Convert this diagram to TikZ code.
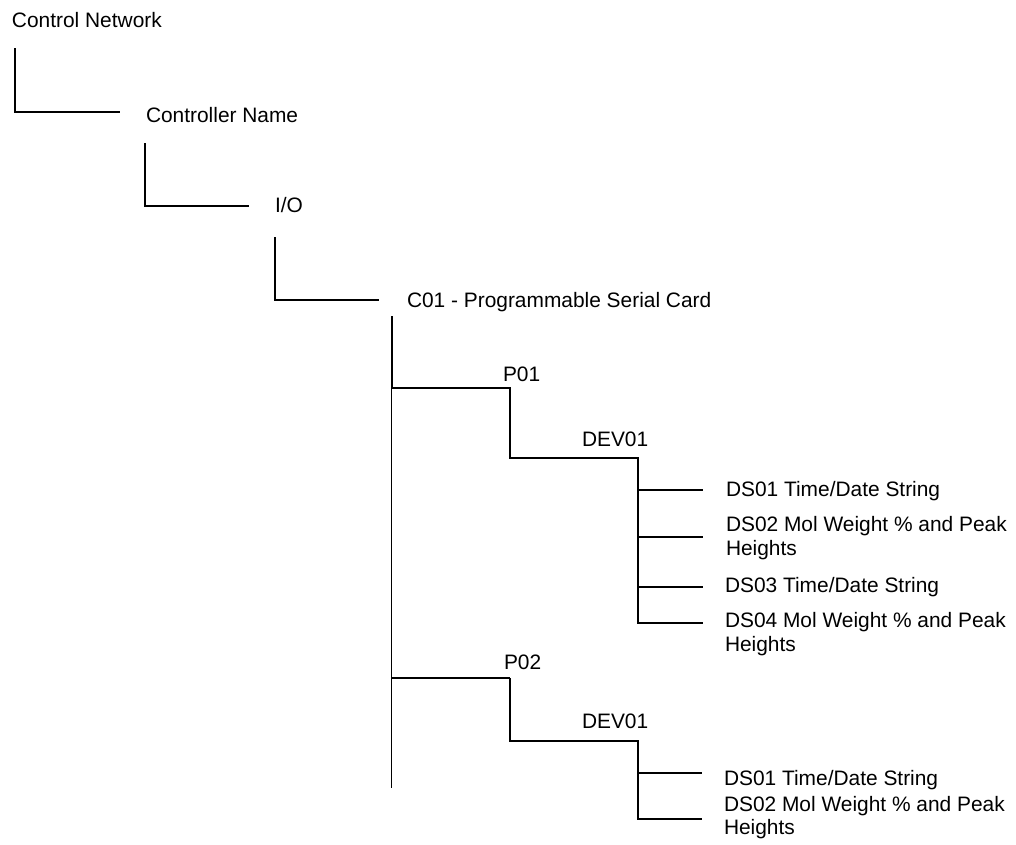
\documentclass[tikz,border=0pt]{standalone}
\usepackage{fontspec}
\setmainfont{Liberation Sans}
\begin{document}
\begin{tikzpicture}[x=1pt,y=-1pt,
  lbl/.style={anchor=base west,inner sep=0pt,outer sep=0pt,font=\fontsize{20.9}{24}\selectfont},
  wire/.style={line width=2pt,line cap=butt,line join=miter},
  thinwire/.style={line width=1.3pt}]
\useasboundingbox (0,0) rectangle (1016,844);
% texts
\node[lbl] (cn) at (12,27) {Control Network};
\node[lbl] (ctl) at (146,122) {Controller Name};
\node[lbl] (io) at (275,212) {I/O};
\node[lbl] (c01) at (407,307) {C01 - Programmable Serial Card};
\node[lbl] (p01) at (503,381) {P01};
\node[lbl] (dev1) at (582,446) {DEV01};
\node[lbl] (a1) at (726,496) {DS01 Time/Date String};
\node[lbl] (a2) at (726,531) {DS02 Mol Weight \% and Peak};
\node[lbl] (a2b) at (726,555) {Heights};
\node[lbl] (a3) at (725,592) {DS03 Time/Date String};
\node[lbl] (a4) at (725,627) {DS04 Mol Weight \% and Peak};
\node[lbl] (a4b) at (725,651) {Heights};
\node[lbl] (p02) at (504,669) {P02};
\node[lbl] (dev2) at (582,728) {DEV01};
\node[lbl] (b1) at (724,785) {DS01 Time/Date String};
\node[lbl] (b2) at (724,811) {DS02 Mol Weight \% and Peak};
\node[lbl] (b2b) at (724,834) {Heights};
% connector points
\coordinate (l1a) at (15,48);   \coordinate (l1b) at (15,112);  \coordinate (l1c) at (120,112);
\coordinate (l2a) at (145,143); \coordinate (l2b) at (145,206); \coordinate (l2c) at (249,206);
\coordinate (l3a) at (275,237); \coordinate (l3b) at (275,300); \coordinate (l3c) at (379,300);
\coordinate (mt) at (391.5,316); \coordinate (m1) at (391.5,388); \coordinate (m2) at (391.5,678); \coordinate (mb) at (391.5,788);
\coordinate (p1a) at (510,388); \coordinate (p1b) at (510,458);
\coordinate (d1a) at (638,458); \coordinate (d1b) at (638,623);
\coordinate (h1) at (638,490); \coordinate (e1) at (703,490);
\coordinate (h2) at (638,537); \coordinate (e2) at (703,537);
\coordinate (h3) at (638,587); \coordinate (e3) at (703,587);
\coordinate (e4) at (703,623);
\coordinate (p2a) at (510,678); \coordinate (p2b) at (510,741);
\coordinate (d2a) at (638,741); \coordinate (d2b) at (638,819);
\coordinate (g1) at (638,773); \coordinate (f1) at (702,773);
\coordinate (f2) at (702,819);
% connectors
\draw[wire] (l1a) -- (l1b) -- (l1c);
\draw[wire] (l2a) -- (l2b) -- (l2c);
\draw[wire] (l3a) -- (l3b) -- (l3c);
\draw[wire] (mt) -- (m1);
\draw[thinwire] (m1) -- (mb);
\draw[wire] (m1) -- (p1a) -- (p1b) -- (d1a) -- (d1b) -- (e4);
\draw[wire] (h1) -- (e1);
\draw[wire] (h2) -- (e2);
\draw[wire] (h3) -- (e3);
\draw[thinwire] (m2) -- (p2a);
\draw[wire] (p2a) -- (p2b) -- (d2a) -- (d2b) -- (f2);
\draw[wire] (g1) -- (f1);
\end{tikzpicture}
\end{document}
